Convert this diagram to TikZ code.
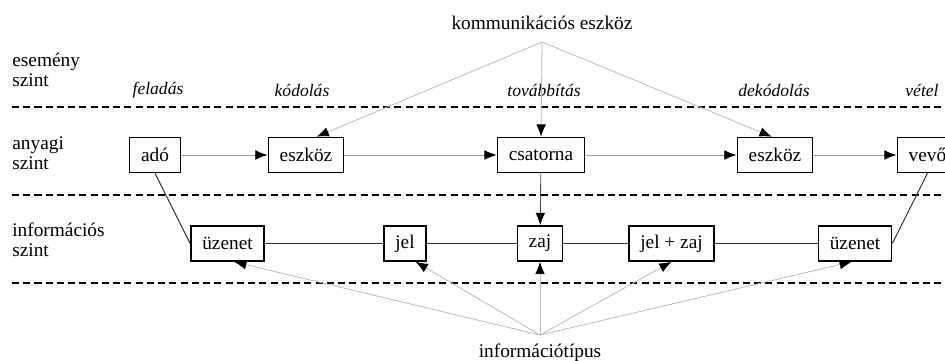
\documentclass[tikz,border=0pt]{standalone}
\usepackage{fontspec}
\setmainfont{Liberation Serif}
\usetikzlibrary{arrows.meta}
\tikzstyle{box}=[rectangle,draw=black,line width=0.8pt,fill=white,
  inner xsep=6.5pt,inner ysep=2pt,minimum height=20pt]
\tikzstyle{lvl}=[anchor=west,align=left,inner sep=0pt]
\tikzstyle{ev}=[font=\itshape,inner sep=0pt]
\tikzstyle{sep}=[line width=0.7pt,dash pattern=on 4pt off 2.4pt]
\tikzstyle{flow}=[draw=gray!75,line width=0.5pt,-{Latex[length=7pt,width=5.5pt,color=black]}]
\tikzstyle{feed}=[draw=gray!55,line width=0.45pt,-{Latex[length=7pt,width=5.5pt,color=black]}]
\tikzstyle{link}=[draw=black!80,line width=0.6pt]

\begin{document}
\begin{tikzpicture}[x=0.02cm,y=-0.02cm,font=\fontsize{11}{11.5}\selectfont]
    \useasboundingbox (0,0) rectangle (945,361);
    % szintek
    \node [style=lvl] (s1) at (12,70) {esemény\\szint};
    \node [style=lvl] (s2) at (12,153) {anyagi\\szint};
    \node [style=lvl] (s3) at (12,240) {információs\\szint};
    \draw [style=sep] (12,107) -- (945,107);
    \draw [style=sep] (12,195) -- (945,195);
    \draw [style=sep] (12,283) -- (945,283);
    % esemenyek
    \node [style=ev] (e1) at (158,90) {feladás};
    \node [style=ev] (e2) at (302,90) {kódolás};
    \node [style=ev] (e3) at (544,90) {továbbítás};
    \node [style=ev] (e4) at (774,90) {dekódolás};
    \node [style=ev] (e5) at (922,90) {vétel};
    % anyagi szint
    \node [style=box] (ado) at (155,155) {adó};
    \node [style=box] (esz1) at (306,155) {eszköz};
    \node [style=box] (csat) at (541,155) {csatorna};
    \node [style=box] (esz2) at (775,155) {eszköz};
    \node [style=box] (vevo) at (927.5,155) {vevő};
    % informacios szint
    \node [style=box] (uz1) at (227.5,243.5) {üzenet};
    \node [style=box] (jel) at (405,243.5) {jel};
    \node [style=box] (zaj) at (540,243.5) {zaj};
    \node [style=box] (jz) at (671.5,243.5) {jel + zaj};
    \node [style=box] (uz2) at (855,243.5) {üzenet};
    % felso es also cimkek
    \node (komm) at (542,23) {kommunikációs eszköz};
    \coordinate (k0) at (542,42);
    \node (info) at (540,353) {információtípus};
    \coordinate (i0) at (540,335);

    \draw [style=flow] (ado) to (esz1);
    \draw [style=flow] (esz1) to (csat);
    \draw [style=flow] (csat) to (esz2);
    \draw [style=flow] (esz2) to (vevo);
    \draw [style=flow,draw=black!70] (csat) to (zaj);

    \draw [style=link] (ado.south) to (uz1.west);
    \draw [style=link] (uz1) to (jel);
    \draw [style=link] (jel) to (zaj);
    \draw [style=link] (zaj) to (jz);
    \draw [style=link] (jz) to (uz2);
    \draw [style=link] (uz2.east) to (vevo.south);

    \draw [style=feed] (k0) to (esz1.60);
    \draw [style=feed] (k0) to (csat.north);
    \draw [style=feed] (k0) to (esz2.100);

    \draw [style=feed] (i0) to (uz1.-70);
    \draw [style=feed] (i0) to (jel.-60);
    \draw [style=feed] (i0) to (zaj.south);
    \draw [style=feed] (i0) to (jz.south);
    \draw [style=feed] (i0) to (uz2.-100);
    \end{tikzpicture}
\end{document}
